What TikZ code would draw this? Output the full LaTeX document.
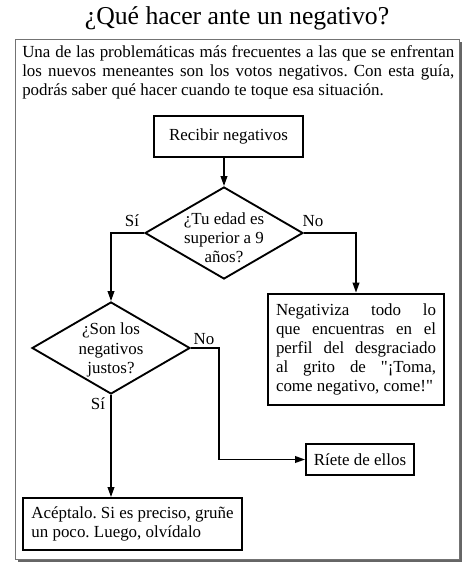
\documentclass[tikz,border=0pt]{standalone}
\usepackage{fontspec}
\setmainfont{Liberation Serif}
\usetikzlibrary{shapes.geometric,arrows.meta}
\frenchspacing
\tikzset{
  body/.style={font=\fontsize{12.7}{14.4}\selectfont},
  box/.style={draw, line width=1.4pt, inner sep=0pt, body, align=center},
  dia/.style={draw, diamond, line width=1.4pt, inner sep=0pt, minimum width=118.5pt, minimum height=69pt},
  diatext/.style={body, align=center, inner sep=0pt},
  conn/.style={line width=1.2pt, -{Triangle[length=7.5pt,width=5pt]}},
  lbl/.style={body, inner sep=0pt}
}
\begin{document}
\frenchspacing
\begin{tikzpicture}[x=0.75pt,y=-0.75pt]
\useasboundingbox (0,0) rectangle (474,575);
\node[font=\fontsize{19.3}{21}\selectfont, inner sep=0pt] (title) at (237,18) {¿Qué hacer ante un negativo?};
\fill[black!60] (18,42) rectangle (462,562);
\draw[fill=white, draw=black!55, line width=0.75pt] (15,39) rectangle (459,559);
\node[body, anchor=north west, inner sep=0pt, text width=324pt, align=justify] (intro) at (22,45)
 {\frenchspacing Una de las problemáticas más frecuentes a las que se enfrentan\linebreak los nuevos meneantes son los votos negativos. Con esta guía,\linebreak podrás saber qué hacer cuando te toque esa situación.};
\node[box, minimum width=111.75pt, minimum height=30.75pt] (rec) at (228.5,136.5) {Recibir negativos};
\node[dia] (d1) at (224,233) {};
\node[diatext] (d1t) at (224,238) {¿Tu edad es\\ superior a 9\\ años?};
\node[box, line width=2pt, minimum width=132pt, minimum height=83.25pt, text width=120pt, align=justify] (neg) at (356,349.5)
 {\frenchspacing Negativiza todo lo\linebreak que encuentras en el\linebreak perfil del desgraciado\linebreak al grito de \textquotedbl¡Toma,\linebreak come negativo, come!\textquotedbl};
\node[dia] (d2) at (111,348) {};
\node[diatext] (d2t) at (111,350) {¿Son los\\ negativos\\ justos?};
\node[box, minimum width=81pt, minimum height=23.25pt] (rie) at (360,459.5) {Ríete de ellos};
\node[box, minimum width=164.25pt, minimum height=39pt, align=left] (acc) at (132.5,524)
 {\frenchspacing Acéptalo. Si es preciso, gruñe\\ un poco. Luego, olvídalo};
\node[lbl] (si1) at (132,221) {Sí};
\node[lbl] (no1) at (313,221) {No};
\node[lbl] (no2) at (204,339) {No};
\node[lbl] (si2) at (98,404) {Sí};
\draw[conn] (d1.north |- rec.south) -- (d1.north);
\draw[conn] (d1.west) -| (d2.north);
\draw[conn] (d1.east) -| (neg.north);
\draw[conn] (d2.east) -- ++(28,0) |- (rie.west);
\draw[conn] (d2.south) -- (d2.south |- acc.north);
\end{tikzpicture}
\end{document}
